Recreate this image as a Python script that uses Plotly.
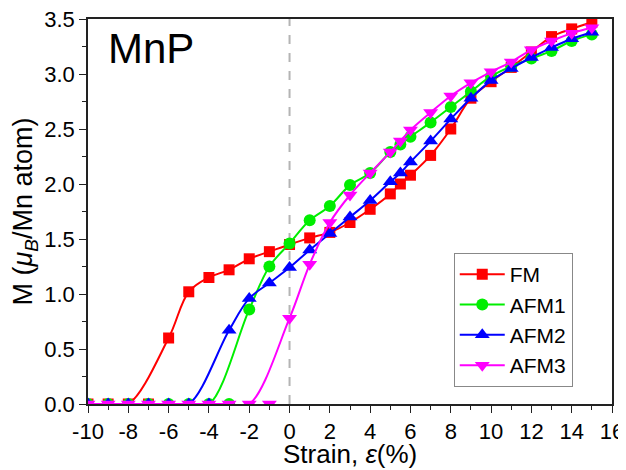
import plotly.graph_objects as go

strain = [-10, -9, -8, -7, -6, -5, -4, -3, -2, -1, 0, 1, 2, 3, 4, 5, 5.5, 6, 7, 8, 9, 10, 11, 12, 13, 14, 15]

fm = [0, 0, 0, 0, 0.60, 1.02, 1.15, 1.22, 1.32, 1.385, 1.45, 1.51, 1.56, 1.65, 1.77, 1.91, 2.00, 2.08, 2.26, 2.50, 2.78, 2.93, 3.06, 3.20, 3.34, 3.41, 3.47]
afm1 = [0, 0, 0, 0, 0, 0, 0, 0, 0.86, 1.25, 1.46, 1.67, 1.80, 1.99, 2.10, 2.29, 2.36, 2.43, 2.56, 2.70, 2.84, 2.98, 3.07, 3.14, 3.21, 3.30, 3.36]
afm2 = [0, 0, 0, 0, 0, 0, 0, 0.67, 0.96, 1.10, 1.24, 1.40, 1.55, 1.70, 1.85, 2.02, 2.10, 2.20, 2.39, 2.59, 2.78, 2.94, 3.05, 3.15, 3.24, 3.32, 3.38]
afm3 = [0, 0, 0, 0, 0, 0, 0, 0, 0, 0, 0.78, 1.27, 1.65, 1.90, 2.10, 2.29, 2.39, 2.49, 2.65, 2.80, 2.92, 3.02, 3.11, 3.22, 3.30, 3.37, 3.42]

names = ["FM", "AFM1", "AFM2", "AFM3"]
series = [fm, afm1, afm2, afm3]
colors = ["#ff0000", "#00ee00", "#0000ff", "#ff00ff"]
symbols = ["square", "circle", "triangle-up", "triangle-down"]
sizes = [11, 12, 13, 13]

x_ticks = list(range(-10, 17, 2))

fig = go.Figure()

for name, ys, col, sym, sz in zip(names, series, colors, symbols, sizes):
    # smooth connecting curve: skip the last zero point before the moment appears
    last_zero = max(i for i, v in enumerate(ys) if v == 0)
    lx = [x for i, x in enumerate(strain) if i != last_zero]
    ly = [y for i, y in enumerate(ys) if i != last_zero]
    fig.add_trace(go.Scatter(x=lx, y=ly, mode="lines",
                             line=dict(color=col, width=2, shape="spline", smoothing=1),
                             showlegend=False, hoverinfo="skip"))
    fig.add_trace(go.Scatter(x=strain, y=ys, mode="markers", name=name,
                             marker=dict(color=col, symbol=sym, size=sz, line=dict(width=0)),
                             showlegend=False))

for name, col, sym, sz in zip(names, colors, symbols, sizes):
    fig.add_trace(go.Scatter(x=[None], y=[None], mode="lines+markers", name=name,
                             line=dict(color=col, width=2),
                             marker=dict(color=col, symbol=sym, size=sz, line=dict(width=0))))

fig.add_shape(type="line", x0=0, x1=0, y0=0, y1=1, xref="x", yref="paper",
              line=dict(color="#b4b4b4", width=2, dash="dash"), layer="below")

fig.add_annotation(x=0.035, y=0.99, xref="paper", yref="paper", text="MnP",
                   showarrow=False, xanchor="left", yanchor="top",
                   font=dict(size=42, color="black"))

# x-axis title placed as an annotation just below the tick labels
fig.add_annotation(x=0.5, y=-0.171, xref="paper", yref="paper",
                   text="Strain, <i>ε</i>(%)", showarrow=False,
                   xanchor="center", yanchor="bottom", borderpad=0,
                   font=dict(size=26, color="black"))

axis_common = dict(showline=True, linecolor="#222", linewidth=1.5, mirror=True,
                   showgrid=False, zeroline=False, ticks="outside", ticklen=7,
                   tickwidth=1.2, tickcolor="#222", automargin=False,
                   ticklabeloverflow="allow",
                   tickfont=dict(size=22, color="black"))

fig.update_xaxes(range=[-10, 16], tickmode="array", tickvals=x_ticks,
                 ticktext=[str(t) for t in x_ticks],
                 minor=dict(dtick=1, tick0=0, ticks="outside", ticklen=4, tickcolor="#222"),
                 **axis_common)
fig.update_yaxes(range=[0, 3.5], dtick=0.5, tick0=0, tickformat=".1f",
                 minor=dict(dtick=0.25, tick0=0, ticks="outside", ticklen=4, tickcolor="#222"),
                 title=dict(text="M (<i>μ<sub>B</sub></i>/Mn atom)", font=dict(size=27, color="black"), standoff=4),
                 **axis_common)

# the page body has an 8px margin, so the figure is sized to fill the rest of the window
fig.update_layout(
    width=618, height=462,
    margin=dict(l=80, r=14, t=11, b=66),
    paper_bgcolor="white", plot_bgcolor="white",
    font=dict(family="Liberation Sans, Arial, sans-serif", color="black"),
    legend=dict(x=0.698, y=0.392, xanchor="left", yanchor="top",
                bordercolor="#888", borderwidth=1, bgcolor="white",
                font=dict(size=21), tracegroupgap=0, itemwidth=45,
                entrywidth=88, entrywidthmode="pixels"),
)

fig.write_html("out.html")
